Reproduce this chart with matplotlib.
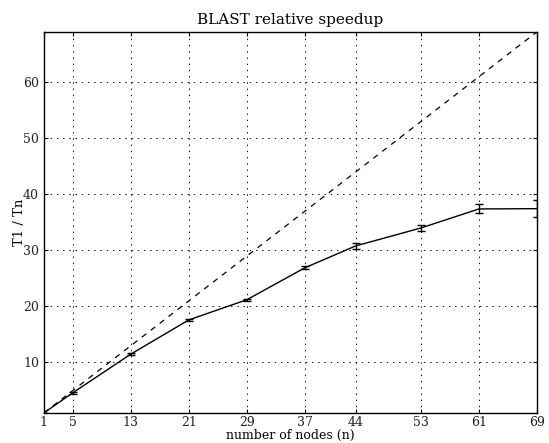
import matplotlib
matplotlib.use("Agg")
import matplotlib.pyplot as plt

nodes = [1, 5, 13, 21, 29, 37, 44, 53, 61, 69]
speedup = [1.0, 4.6, 11.5, 17.6, 21.2, 26.9, 30.8, 34.0, 37.4, 37.45]
err = [0.0, 0.15, 0.15, 0.15, 0.15, 0.3, 0.6, 0.55, 0.8, 1.5]
ideal = [1, 69]
xticks = [1, 5, 13, 21, 29, 37, 44, 53, 61, 69]
yticks = [10, 20, 30, 40, 50, 60]

plt.rcParams['font.family'] = ['DejaVu Serif']
fig = plt.figure(figsize=(5.49, 4.43), dpi=100)
ax = fig.add_axes([0.080, 0.068, 0.898, 0.860])

ax.plot(ideal, ideal, color='black', linestyle='--', linewidth=0.9, dashes=(4.5, 4.5))
ax.errorbar(nodes, speedup, yerr=err, color='black', linewidth=1.0,
            elinewidth=1.0, capsize=3, capthick=1.0)

ax.set_xlim(1, 69)
ax.set_ylim(1, 69)
ax.set_xticks(xticks)
ax.set_yticks(yticks)
ax.tick_params(direction='in', top=True, right=True, length=3, labelsize=9, width=0.8,
               labelcolor='#222222')
ax.tick_params(axis='x', pad=2)
ax.grid(True, linestyle=(0, (1.4, 5)), color='black', linewidth=0.7)
for s in ax.spines.values():
    s.set_linewidth(1.0)

ax.set_title('BLAST relative speedup', fontsize=11)
ax.set_xlabel('number of nodes (n)', fontsize=9, labelpad=0)
ax.set_ylabel('T1 / Tn', fontsize=9.5, labelpad=-2)

fig.savefig('out.png', dpi=100)
